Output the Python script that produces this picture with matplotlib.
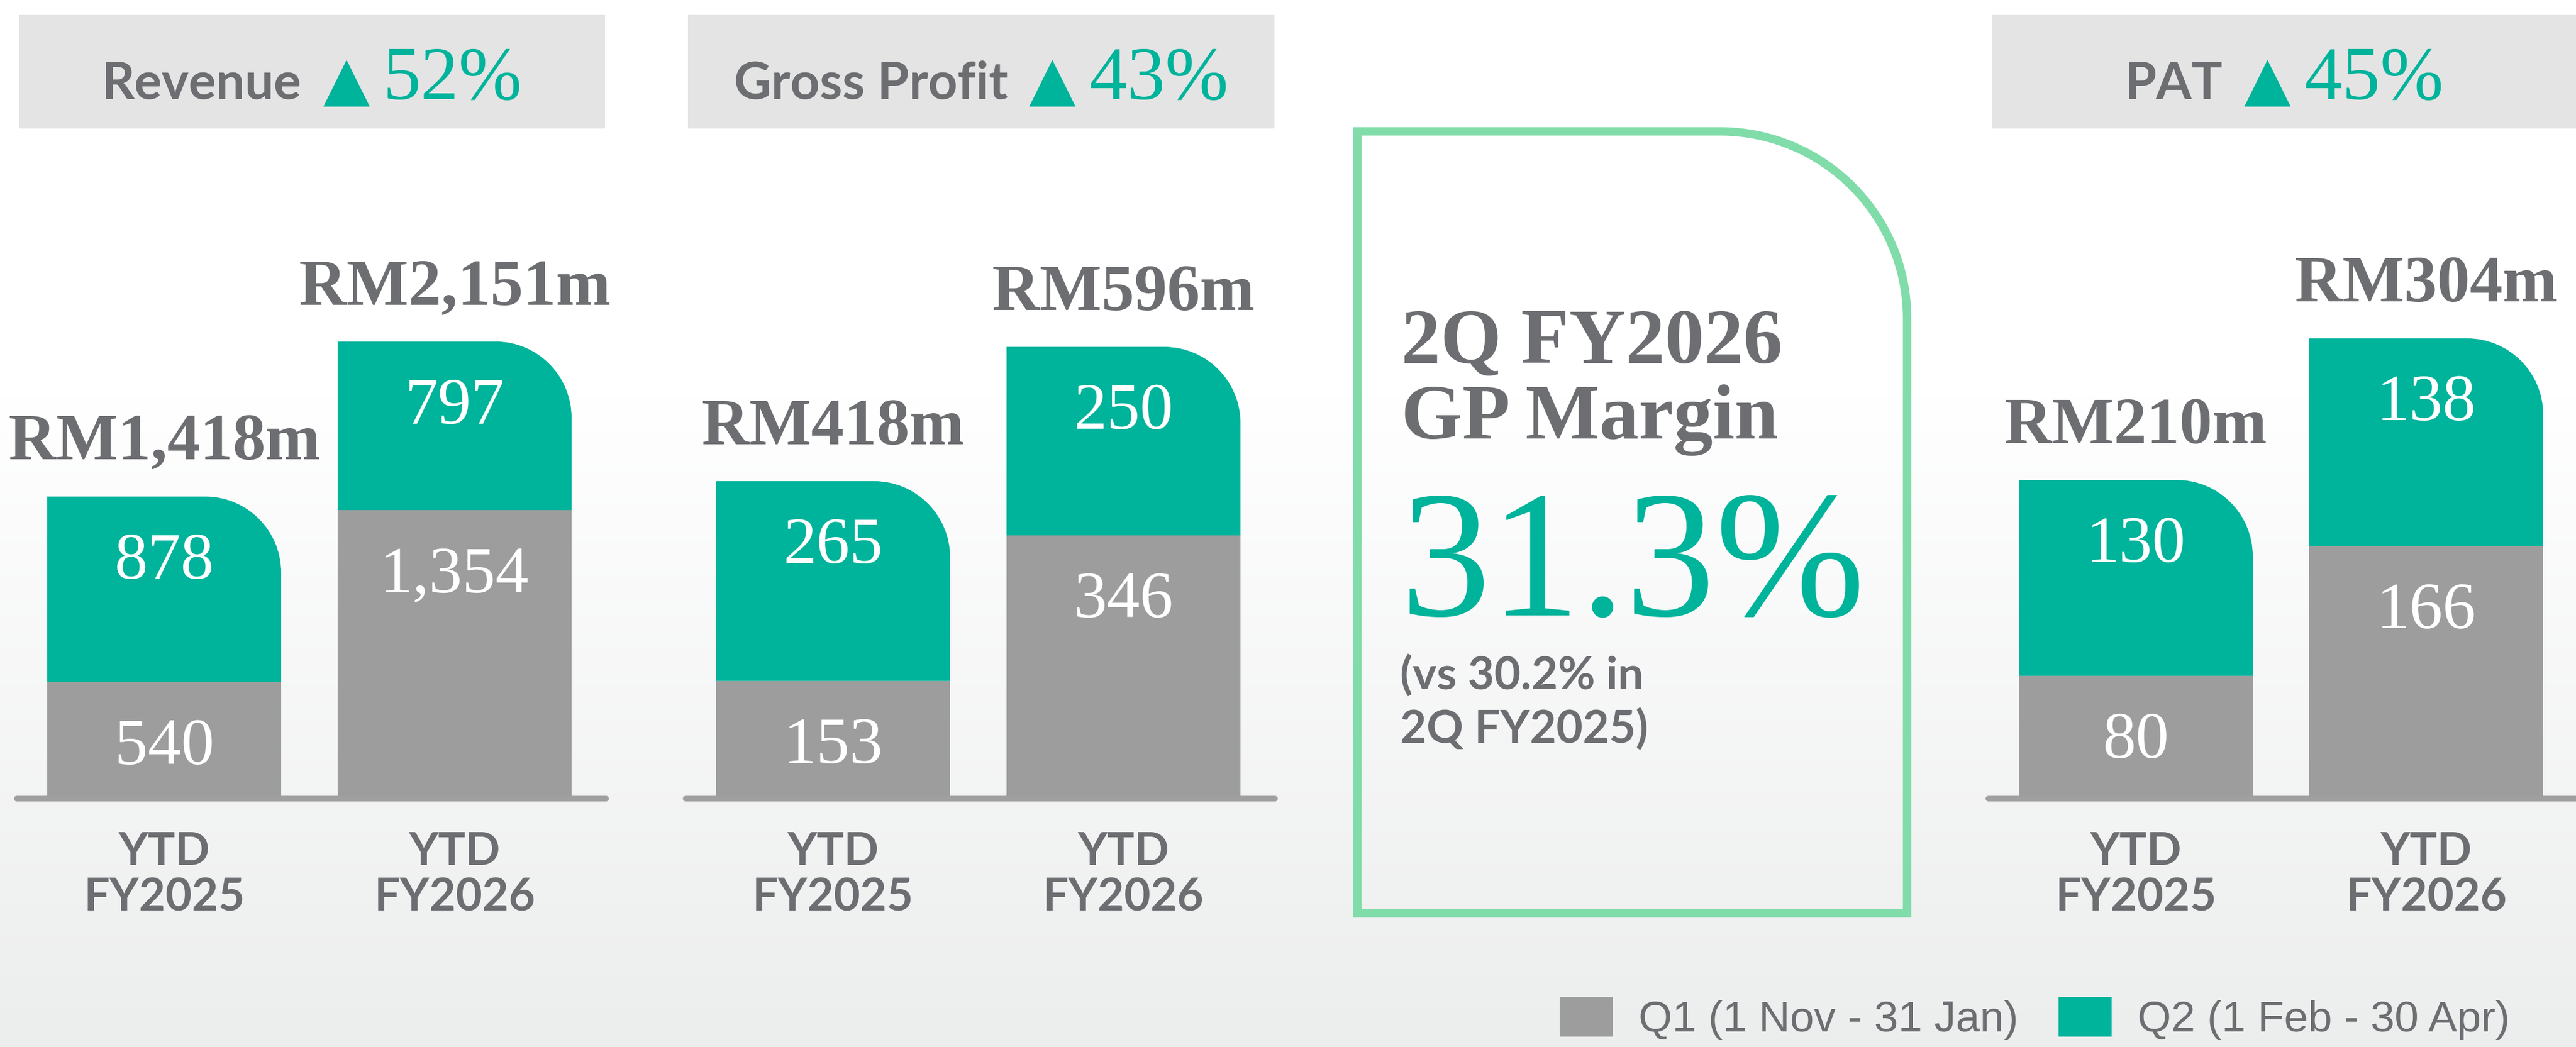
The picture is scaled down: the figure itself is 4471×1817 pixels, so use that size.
import numpy as np
import matplotlib
matplotlib.use("Agg")
import matplotlib.pyplot as plt
from matplotlib.patches import Rectangle, PathPatch, Patch
from matplotlib.path import Path

# ---------------- data ----------------
panel_titles = ["Revenue", "Gross Profit", "PAT"]
panel_growth = ["52%", "43%", "45%"]
periods = ["YTD\nFY2025", "YTD\nFY2026"]
q1_revenue = [540, 1354]
q2_revenue = [878, 797]
q1_gross_profit = [153, 346]
q2_gross_profit = [265, 250]
q1_pat = [80, 166]
q2_pat = [130, 138]
margin_title = ["2Q FY2026", "GP Margin"]
margin_value = "31.3%"
margin_note = ["(vs 30.2% in", "2Q FY2025)"]
legend_labels = ["Q1 (1 Nov - 31 Jan)", "Q2 (1 Feb - 30 Apr)"]

# ---------------- style ----------------
W, H, DPI = 4471, 1817, 100
TEAL = "#00B39B"
BARGREY = "#9D9D9D"
TXT = "#6D6E71"
HEADBG = "#E4E4E4"
BORDER = "#80DCA9"
SERIF = ["Liberation Serif", "DejaVu Serif"]
SANS = ["Lato", "Open Sans", "DejaVu Sans"]
LEGF = ["Liberation Sans", "DejaVu Sans"]


def P(x, y):
    return (x / W, 1 - y / H)


fig = plt.figure(figsize=(W / DPI, H / DPI), dpi=DPI)
fig.patch.set_facecolor("white")

# background gradient
bg = fig.add_axes([0, 0, 1, 1], zorder=-10)
bg.axis("off")
t = np.linspace(0, 1, 400)
g = np.clip((t - 0.38) / 0.62, 0, 1)
top = np.array([1.0, 1.0, 1.0])
bot = np.array([236, 237, 237]) / 255
grad = top[None, :] * (1 - g[:, None]) + bot[None, :] * g[:, None]
bg.imshow(grad[:, None, :], aspect="auto", extent=[0, 1, 1, 0])
bg.set_xlim(0, 1)
bg.set_ylim(1, 0)

# header boxes
header_boxes = [(33, 1050), (1194, 2212), (3458, 4480)]
for (x0, x1) in header_boxes:
    fig.add_artist(Rectangle(P(x0, 223), (x1 - x0) / W, (223 - 26) / H,
                             transform=fig.transFigure, facecolor=HEADBG,
                             edgecolor="none", zorder=1))

# panel axes
panel_data = [(q1_revenue, q2_revenue), (q1_gross_profit, q2_gross_profit), (q1_pat, q2_pat)]
ax_lefts = [29, 1190, 3451]
ax_w = 1023
ax_top, ax_bot = 250, 1382
ylim_tops = [3085, 865, 433]
x = np.arange(2)
bar_w = 406 / 504
R_PX = 132

fig.canvas.draw()
renderer = fig.canvas.get_renderer()

for i, (q1, q2) in enumerate(panel_data):
    l = ax_lefts[i]
    ax = fig.add_axes([l / W, 1 - ax_bot / H, ax_w / W, (ax_bot - ax_top) / H])
    ax.set_facecolor("none")
    ax.set_xlim(-256 / 504, 1 + 263 / 504)
    ax.set_ylim(0, ylim_tops[i])
    for s in ax.spines.values():
        s.set_visible(False)
    ax.set_yticks([])
    px_per_x = ax_w / (ax.get_xlim()[1] - ax.get_xlim()[0])
    px_per_y = (ax_bot - ax_top) / ylim_tops[i]
    bl = ax.axhline(-4 / px_per_y, color="#A0A0A0", lw=7, zorder=1)
    bl.set_solid_capstyle("round")
    bl.set_clip_on(False)
    b1 = ax.bar(x, q1, bar_w, color=BARGREY, zorder=2)
    b2 = ax.bar(x, q2, bar_w, bottom=q1, color=TEAL, zorder=2)
    # rounded top-right corner for the Q2 (top) segments
    rx, ry = R_PX / px_per_x, R_PX / px_per_y
    k = 0.5523
    for rect in b2:
        x0, y0 = rect.get_x(), rect.get_y()
        x1, y1 = x0 + rect.get_width(), y0 + rect.get_height()
        verts = [(x0, y0), (x1, y0), (x1, y1 - ry),
                 (x1, y1 - ry + k * ry), (x1 - rx + k * rx, y1), (x1 - rx, y1),
                 (x0, y1), (x0, y0)]
        codes = [Path.MOVETO, Path.LINETO, Path.LINETO,
                 Path.CURVE4, Path.CURVE4, Path.CURVE4,
                 Path.LINETO, Path.CLOSEPOLY]
        rect.set_visible(False)
        ax.add_patch(PathPatch(Path(verts, codes), facecolor=TEAL,
                               edgecolor="none", zorder=2))
    # labels
    for xi, a, b in zip(x, q1, q2):
        ax.annotate(f"{a:,}", xy=(xi, a), xytext=(0, -142), textcoords="offset pixels",
                    ha="center", va="baseline", fontsize=83, family=SERIF,
                    color="white", zorder=5)
        ax.annotate(f"{b:,}", xy=(xi, a + b), xytext=(0, -142), textcoords="offset pixels",
                    ha="center", va="baseline", fontsize=83, family=SERIF,
                    color="white", zorder=5)
        ax.annotate(f"RM{a + b:,}m", xy=(xi, a + b), xytext=(0, 64),
                    textcoords="offset pixels", ha="center", va="baseline",
                    fontsize=82, family=SERIF, fontweight="bold", color=TXT,
                    annotation_clip=False)
    ax.set_xticks(x, labels=periods)
    ax.tick_params(axis="x", length=0, pad=44, labelsize=57, labelcolor=TXT)
    for tl in ax.get_xticklabels():
        tl.set_family(SANS)
        tl.set_fontweight("bold")
        tl.set_linespacing(1.13)

    # header text group
    cx = (header_boxes[i][0] + min(header_boxes[i][1], W)) / 2
    pieces = [
        fig.text(0, 0, panel_titles[i], fontsize=64, family=SANS, fontweight="bold",
                 color=TXT, ha="left", va="baseline", zorder=3),
        fig.text(0, 0, "\u25B2", fontsize=76, family=["DejaVu Sans"], color=TEAL,
                 ha="left", va="baseline", zorder=3),
        fig.text(0, 0, panel_growth[i], fontsize=95, family=SERIF, color=TEAL,
                 ha="left", va="baseline", zorder=3),
    ]
    gaps = [37, 23]
    widths = [p.get_window_extent(renderer).width for p in pieces]
    xs = cx - (sum(widths) + sum(gaps)) / 2
    for p, w_, gp in zip(pieces, widths, gaps + [0]):
        p.set_position(P(xs, 172))
        xs += w_ + gp

# GP margin box
L, Rr, T, B, RAD = 2356, 3310, 228, 1585, 325
rxf, ryf = RAD / W, RAD / H
kk = 0.5523
x0f, x1f = L / W, Rr / W
y0f, y1f = 1 - B / H, 1 - T / H
verts = [(x0f, y0f), (x0f, y1f), (x1f - rxf, y1f),
         (x1f - rxf + kk * rxf, y1f), (x1f, y1f - ryf + kk * ryf), (x1f, y1f - ryf),
         (x1f, y0f), (x0f, y0f)]
codes = [Path.MOVETO, Path.LINETO, Path.LINETO,
         Path.CURVE4, Path.CURVE4, Path.CURVE4,
         Path.LINETO, Path.CLOSEPOLY]
fig.add_artist(PathPatch(Path(verts, codes), transform=fig.transFigure,
                         facecolor="none", edgecolor=BORDER, lw=10.5, zorder=2))

fig.text(*P(2432, 630), margin_title[0], fontsize=98, family=SERIF, fontweight="bold",
         color=TXT, ha="left", va="baseline")
fig.text(*P(2432, 761), margin_title[1], fontsize=98, family=SERIF, fontweight="bold",
         color=TXT, ha="left", va="baseline")
fig.text(*P(2430, 1068), margin_value, fontsize=225, family=SERIF, color=TEAL,
         ha="left", va="baseline")
fig.text(*P(2430, 1197), margin_note[0], fontsize=57, family=SANS, fontweight="bold",
         color=TXT, ha="left", va="baseline")
fig.text(*P(2430, 1290), margin_note[1], fontsize=57, family=SANS, fontweight="bold",
         color=TXT, ha="left", va="baseline")

# legend
LEG_FS = 54
fs_px = LEG_FS * DPI / 72
handles = [Patch(facecolor=BARGREY, edgecolor="none"), Patch(facecolor=TEAL, edgecolor="none")]
leg = fig.legend(handles, legend_labels, loc="upper left", bbox_to_anchor=P(2707, 1730),
                 ncol=2, frameon=False, borderpad=0, borderaxespad=0,
                 handlelength=92 / fs_px, handleheight=78 / fs_px,
                 handletextpad=45 / fs_px, columnspacing=70 / fs_px,
                 prop={"family": LEGF, "size": LEG_FS}, labelcolor=TXT)

fig.savefig("out.png", dpi=DPI)
